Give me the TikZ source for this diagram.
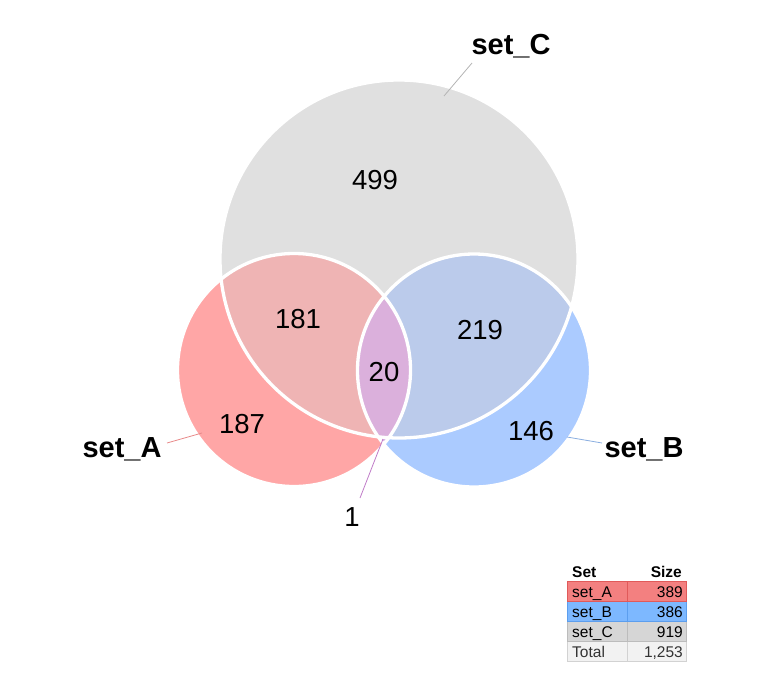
\documentclass[tikz,border=0pt]{standalone}
\usepackage{fontspec}
\setmainfont{Liberation Sans}
\begin{document}
\begin{tikzpicture}[x=1pt,y=-1pt,
  num/.style={font=\fontsize{27.5}{27.5}\selectfont, inner sep=0pt},
  setlabel/.style={font=\fontsize{29}{29}\selectfont\bfseries, inner sep=0pt, anchor=base},
  tcell/.style={font=\fontsize{15.5}{15.5}\selectfont, inner sep=0pt, anchor=base},
  thead/.style={font=\fontsize{15.5}{15.5}\selectfont\bfseries, inner sep=0pt, anchor=base},
  wline/.style={draw=white, line width=3.3pt}]
\definecolor{cA}{HTML}{FFA6A6}
\definecolor{cB}{HTML}{ABCBFF}
\definecolor{cC}{HTML}{E0E0E0}
\definecolor{cAC}{HTML}{EFB4B4}
\definecolor{cBC}{HTML}{BBCBEB}
\definecolor{cABC}{HTML}{DBB0DC}
\definecolor{cAB}{HTML}{D8B0E6}
\definecolor{lA}{HTML}{E88A8A}
\definecolor{lB}{HTML}{8AAEE0}
\definecolor{lC}{HTML}{B4B4B4}
\definecolor{lAB}{HTML}{C07CC8}
\definecolor{tA}{HTML}{F38080}
\definecolor{tAb}{HTML}{E05A5A}
\definecolor{tB}{HTML}{7DB8FF}
\definecolor{tBb}{HTML}{5C9EEE}
\definecolor{tC}{HTML}{D6D6D6}
\definecolor{tCb}{HTML}{BCBCBC}
\definecolor{tT}{HTML}{F2F2F2}
\definecolor{tTb}{HTML}{D2D2D2}
\useasboundingbox (0,0) rectangle (768,672);
% circles
\coordinate (CA) at (294,370);
\coordinate (CB) at (474,370.5);
\coordinate (CC) at (399,259);
\fill[cC] (CC) circle[radius=179pt];
\fill[cA] (CA) circle[radius=116.5pt];
\fill[cB] (CB) circle[radius=116.5pt];
\begin{scope}
  \clip (CA) circle[radius=116.5pt];
  \fill[cAC] (CC) circle[radius=179pt];
  \fill[cAB] (CB) circle[radius=116.5pt];
\end{scope}
\begin{scope}
  \clip (CB) circle[radius=116.5pt];
  \fill[cBC] (CC) circle[radius=179pt];
\end{scope}
\begin{scope}
  \clip (CA) circle[radius=116.5pt];
  \clip (CB) circle[radius=116.5pt];
  \fill[cABC] (CC) circle[radius=179pt];
\end{scope}
\draw[wline] (CC) circle[radius=179pt];
\draw[wline] (CA) circle[radius=116.5pt];
\draw[wline] (CB) circle[radius=116.5pt];
% region counts
\node[num] (n499) at (375,180) {499};
\node[num] (n181) at (298,319) {181};
\node[num] (n219) at (480,330) {219};
\node[num] (n20) at (384,372) {20};
\node[num] (n187) at (242,424) {187};
\node[num] (n146) at (531,431) {146};
\node[num] (n1) at (352,517) {1};
% set labels
\node[setlabel] (lbA) at (122,457) {set\_A};
\node[setlabel] (lbB) at (644,457) {set\_B};
\node[setlabel] (lbC) at (511,54) {set\_C};
% connectors
\coordinate (pA1) at (167,443);
\coordinate (pA2) at (202,433);
\coordinate (pB1) at (567,437);
\coordinate (pB2) at (602,443);
\coordinate (pC1) at (472,63);
\coordinate (pC2) at (444,96);
\coordinate (p11) at (360,498);
\coordinate (p12) at (383,439);
\draw[lA, line width=0.8pt] (pA1) -- (pA2);
\draw[lB, line width=0.8pt] (pB1) -- (pB2);
\draw[lC, line width=0.8pt] (pC1) -- (pC2);
\draw[lAB, line width=0.8pt] (p11) -- (p12);
% table
\fill[tA] (567.5,581.5) rectangle (686,601.5);
\fill[tB] (567.5,601.5) rectangle (686,621.5);
\fill[tC] (567.5,621.5) rectangle (686,641.5);
\fill[tT] (567.5,641.5) rectangle (686,661.5);
\draw[tTb, line width=1pt] (567.5,641.5) rectangle (686,661.5) (627.5,641.5) -- (627.5,661.5);
\draw[tCb, line width=1pt] (567.5,621.5) rectangle (686,641.5) (627.5,621.5) -- (627.5,641.5);
\draw[tBb, line width=1pt] (567.5,601.5) rectangle (686,621.5) (627.5,601.5) -- (627.5,621.5);
\draw[tAb, line width=1pt] (567.5,581.5) rectangle (686,601.5) (627.5,581.5) -- (627.5,601.5);
\node[thead, anchor=base west] (hSet) at (572,577) {Set};
\node[thead, anchor=base east] (hSize) at (682,577) {Size};
\node[tcell, anchor=base west] (rA) at (572,597) {set\_A};
\node[tcell, anchor=base east] (vA) at (683,597) {389};
\node[tcell, anchor=base west] (rB) at (572,617) {set\_B};
\node[tcell, anchor=base east] (vB) at (683,617) {386};
\node[tcell, anchor=base west] (rC) at (572,637) {set\_C};
\node[tcell, anchor=base east] (vC) at (683,637) {919};
\node[tcell, anchor=base west, text=black!80] (rT) at (572,657) {Total};
\node[tcell, anchor=base east, text=black!80] (vT) at (683,657) {1,253};
\end{tikzpicture}
\end{document}
